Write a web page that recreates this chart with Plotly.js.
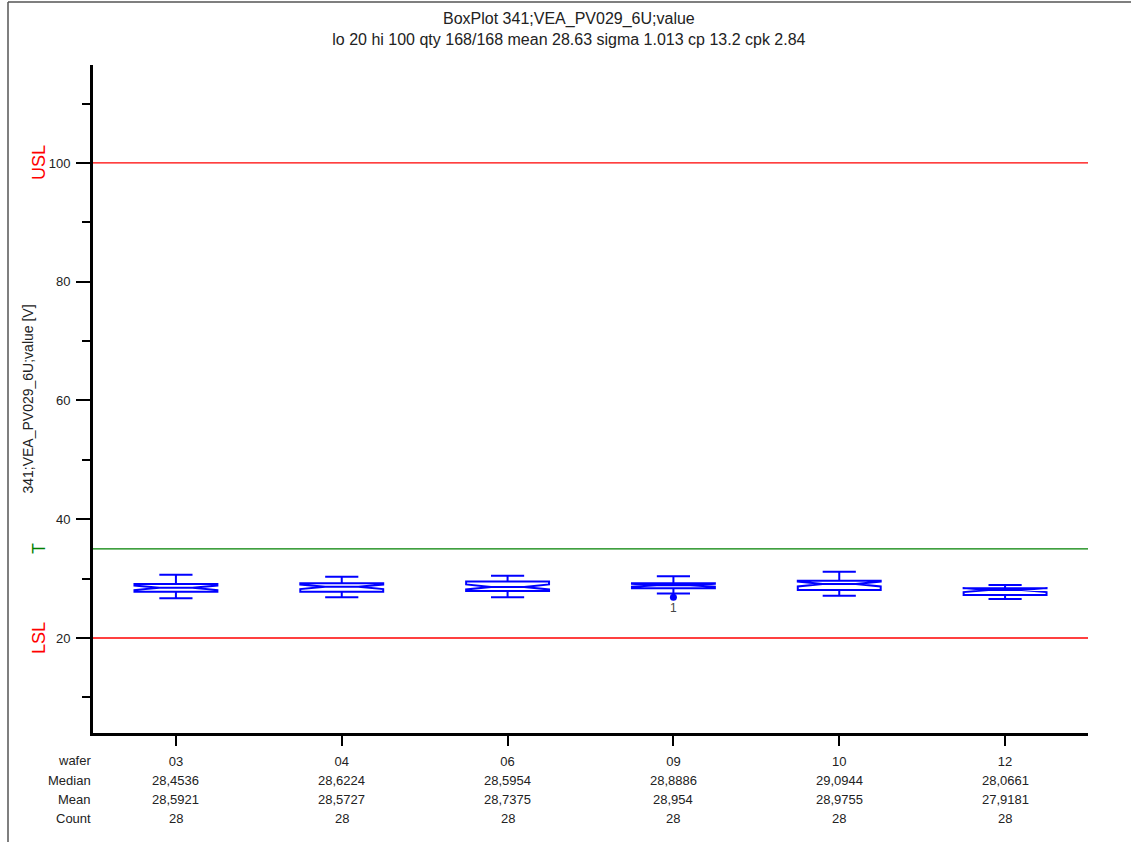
<!DOCTYPE html>
<html>
<head>
<meta charset="utf-8">
<script src="https://cdn.plot.ly/plotly-3.0.1.min.js"></script>
<style>html,body{margin:0;padding:0;background:#fff;}#chart{width:1131px;height:842px;}</style>
</head>
<body>
<div id="chart"></div>
<script>
// ---- data ----
const wafers = ['03', '04', '06', '09', '10', '12'];
const lowerWhisker = [26.7, 26.85, 26.85, 27.5, 27.1, 26.57];
const q1Values = [27.8, 27.8, 27.9, 28.37, 28.08, 27.24];
const medians = [28.4536, 28.6224, 28.5954, 28.8886, 29.0944, 28.0661];
const q3Values = [29.09, 29.2, 29.5, 29.2, 29.65, 28.37];
const upperWhisker = [30.66, 30.32, 30.5, 30.4, 31.17, 28.93];
const notchSpans = [0.39, 0.39, 0.42, 0.25, 0.42, 0.34];
const medianLabels = ['28,4536', '28,6224', '28,5954', '28,8886', '29,0944', '28,0661'];
const meanLabels = ['28,5921', '28,5727', '28,7375', '28,954', '28,9755', '27,9181'];
const countLabels = ['28', '28', '28', '28', '28', '28'];
const rowNames = ['wafer', 'Median', 'Mean', 'Count'];
const outlierWafer = ['09'];
const outlierValue = [26.85];
const outlierLabel = ['1'];
const limitNames = ['USL', 'T', 'LSL'];
const limitValues = [100, 35, 20];
const limitColors = ['#ff0000', '#008000', '#ff0000'];

const FONT = 'Liberation Sans, Arial, sans-serif';

const traces = [
  {
    type: 'box',
    x: wafers,
    q1: q1Values,
    median: medians,
    q3: q3Values,
    lowerfence: lowerWhisker,
    upperfence: upperWhisker,
    notched: true,
    notchspan: notchSpans,
    notchwidth: 0.3,
    width: 0.5,
    whiskerwidth: 0.4,
    boxpoints: false,
    line: {color: '#0000ff', width: 2},
    fillcolor: 'rgba(0,0,0,0)',
    hoverinfo: 'skip',
    showlegend: false
  },
  {
    type: 'scatter',
    mode: 'markers+text',
    x: outlierWafer,
    y: outlierValue,
    text: outlierLabel,
    textposition: 'bottom center',
    textfont: {family: FONT, size: 12, color: '#444'},
    marker: {color: '#0000ff', size: 7},
    hoverinfo: 'skip',
    showlegend: false
  }
];

// plot area geometry (px) used to place the table rows
const plotBottom = 733, plotH = 668;
function rowY(py) { return (plotBottom - py) / plotH; }
const rowPix = [760.7, 780, 799.3, 818.3];

const annotations = [];
// row names
rowNames.forEach((n, i) => {
  annotations.push({
    xref: 'paper', yref: 'paper', x: 0.0, y: rowY(rowPix[i]),
    xanchor: 'right', yanchor: 'middle', showarrow: false,
    text: n, font: {family: FONT, size: 13, color: '#222'}
  });
});
const rows = [medianLabels, meanLabels, countLabels];
rows.forEach((arr, r) => {
  arr.forEach((t, i) => {
    annotations.push({
      xref: 'x', yref: 'paper', x: i, y: rowY(rowPix[r + 1]),
      xanchor: 'center', yanchor: 'middle', showarrow: false,
      text: t, font: {family: FONT, size: 13, color: '#222'}
    });
  });
});
// limit labels
limitNames.forEach((n, i) => {
  annotations.push({
    xref: 'paper', yref: 'y', x: (39 - 93) / 995, y: limitValues[i],
    xanchor: 'center', yanchor: 'middle', showarrow: false, textangle: -90,
    text: n, font: {family: FONT, size: 18, color: limitColors[i]}
  });
});

const shapes = limitNames.map((n, i) => ({
  type: 'line', xref: 'paper', yref: 'y', x0: 0, x1: 1,
  y0: limitValues[i], y1: limitValues[i],
  line: {color: limitColors[i], width: 1.3}
}));
// outer frame lines
shapes.push({type: 'line', xref: 'paper', yref: 'paper',
  x0: (8 - 93) / 995, x1: (1131 - 93) / 995, y0: (733 - 2) / 668, y1: (733 - 2) / 668,
  line: {color: '#555', width: 1.5}});
shapes.push({type: 'line', xref: 'paper', yref: 'paper',
  x0: (8 - 93) / 995, x1: (8 - 93) / 995, y0: (733 - 2) / 668, y1: (733 - 842) / 668,
  line: {color: '#555', width: 1.5}});

const layout = {
  width: 1131, height: 842,
  margin: {l: 93, r: 43, t: 65, b: 109},
  paper_bgcolor: '#fff', plot_bgcolor: '#fff',
  font: {family: FONT, size: 13, color: '#222'},
  title: {
    text: 'BoxPlot 341;VEA_PV029_6U;value<br>lo 20 hi 100 qty 168/168 mean 28.63 sigma 1.013 cp 13.2 cpk 2.84',
    x: 0.503, xref: 'container', y: 1 - 24 / 842, yref: 'container', yanchor: 'top',
    font: {family: FONT, size: 16, color: '#222'}
  },
  xaxis: {
    type: 'category', range: [-0.5, 5.5],
    showline: true, linewidth: 3, linecolor: '#000', mirror: false,
    ticks: 'outside', ticklen: 10, tickwidth: 2, tickcolor: '#000',
    ticklabelstandoff: 4,
    showgrid: false, zeroline: false,
    tickfont: {family: FONT, size: 13, color: '#222'}
  },
  yaxis: {
    range: [4.0, 116.5],
    showline: true, linewidth: 3, linecolor: '#000',
    ticks: 'outside', ticklen: 14, tickwidth: 2, tickcolor: '#000',
    ticklabelstandoff: 3,
    tick0: 0, dtick: 20,
    minor: {ticks: 'outside', ticklen: 8, tickwidth: 2, tickcolor: '#000', dtick: 10, tick0: 0, showgrid: false},
    showgrid: false, zeroline: false,
    tickfont: {family: FONT, size: 13, color: '#222'},
    title: {text: '341;VEA_PV029_6U;value [V]', standoff: 12, font: {family: FONT, size: 14, color: '#222'}}
  },
  shapes: shapes,
  annotations: annotations,
  showlegend: false
};

Plotly.newPlot('chart', traces, layout, {displayModeBar: false, staticPlot: true});
</script>
</body>
</html>
